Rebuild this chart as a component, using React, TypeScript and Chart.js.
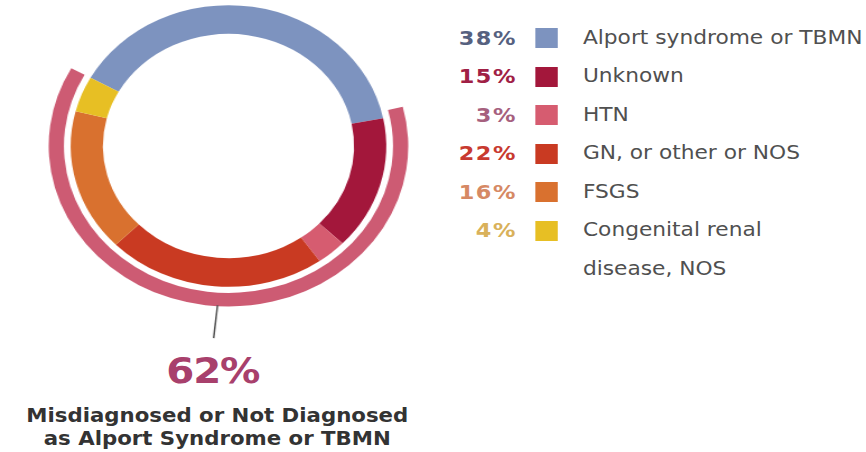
import React, { useEffect, useRef } from "react";
import { Chart, registerables } from "chart.js";

Chart.register(...registerables);

const CATEGORIES = [
  "Alport syndrome or TBMN",
  "Unknown",
  "HTN",
  "GN, or other or NOS",
  "FSGS",
  "Congenital renal\ndisease, NOS",
];
const PERCENTS = [38, 15, 3, 22, 16, 4];
const SEGMENT_COLORS = ["#7d93bf", "#a3173b", "#d65c70", "#c93a22", "#d9712f", "#e7bf24"];
const PERCENT_TEXT_COLORS = ["#56617f", "#a02045", "#a6607e", "#c83a30", "#d68964", "#d9b15a"];
const MISDIAGNOSED = 62;
const BAND_SPLIT = [100 - MISDIAGNOSED, MISDIAGNOSED];
const BAND_COLOR = "#cd5b73";
const SUMMARY_LABEL = "Misdiagnosed or Not Diagnosed\nas Alport Syndrome or TBMN";

const FONT = "'DejaVu Sans', 'Open Sans', sans-serif";

const tickPlugin = {
  id: "bandTick",
  afterDatasetsDraw(chart: any) {
    const meta = chart.getDatasetMeta(0);
    const arc = meta.data[1];
    if (!arc) return;
    const { x, y, outerRadius } = arc.getProps(["x", "y", "outerRadius"], true);
    const a = Math.PI / 2 + 0.061;
    const x0 = x + outerRadius * Math.cos(a);
    const y0 = y + outerRadius * Math.sin(a);
    const ctx = chart.ctx;
    ctx.save();
    ctx.strokeStyle = "#555";
    ctx.lineWidth = 1.5;
    ctx.beginPath();
    ctx.moveTo(x0, y0 - 1);
    ctx.lineTo(x0 - 3.5, y0 + 32);
    ctx.stroke();
    ctx.restore();
  },
};

function Donut() {
  const ref = useRef<HTMLCanvasElement>(null);
  useEffect(() => {
    if (!ref.current) return;
    const chart = new Chart(ref.current, {
      type: "doughnut",
      data: {
        labels: CATEGORIES,
        datasets: [
          {
            data: BAND_SPLIT,
            backgroundColor: ["rgba(0,0,0,0)", BAND_COLOR],
            borderWidth: 0,
            weight: 13.5,
          } as any,
          {
            data: [1],
            backgroundColor: ["rgba(0,0,0,0)"],
            borderWidth: 0,
            weight: 6,
          } as any,
          {
            data: PERCENTS,
            backgroundColor: SEGMENT_COLORS,
            borderWidth: 0,
            weight: 28.5,
          } as any,
        ],
      },
      options: {
        responsive: false,
        animation: false,
        events: [],
        rotation: -61,
        radius: 160.5,
        cutout: 112.5,
        layout: { padding: { bottom: 40 } },
        plugins: {
          legend: { display: false },
          tooltip: { enabled: false },
        },
      } as any,
      plugins: [tickPlugin],
    });
    return () => chart.destroy();
  }, []);
  return (
    <canvas
      ref={ref}
      width={322}
      height={362}
      style={{ position: "absolute", left: 42.6, top: -15, width: 322, height: 362 }}
    />
  );
}

export default function App() {
  return (
    <div
      style={{
        position: "absolute",
        left: 0,
        top: 0,
        width: 773,
        height: 452,
        overflow: "hidden",
        transform: "scaleX(1.12)",
        transformOrigin: "0 0",
        fontFamily: FONT,
        background: "#fff",
      }}
    >
      <Donut />
      <div
        style={{
          position: "absolute",
          left: 90,
          width: 200,
          top: 349,
          textAlign: "center",
          fontWeight: 700,
          fontSize: 36,
          letterSpacing: -1,
          lineHeight: "44px",
          color: "#a8406c",
        }}
      >
        {MISDIAGNOSED}%
      </div>
      <div
        style={{
          position: "absolute",
          left: 0,
          width: 388,
          top: 403.5,
          textAlign: "center",
          fontWeight: 700,
          fontSize: 19,
          lineHeight: "23px",
          color: "#333",
          whiteSpace: "pre-line",
        }}
      >
        {SUMMARY_LABEL}
      </div>
      <div style={{ position: "absolute", left: 380, top: 18.75 }}>
        {CATEGORIES.map((c, i) => (
          <div key={c} style={{ display: "flex", alignItems: "flex-start" }}>
            <div
              style={{
                width: 81.6,
                textAlign: "right",
                fontWeight: 700,
                fontSize: 20,
                letterSpacing: 1.4,
                lineHeight: "38.5px",
                height: 38.5,
                color: PERCENT_TEXT_COLORS[i],
              }}
            >
              {PERCENTS[i]}%
            </div>
            <div
              style={{
                marginLeft: 16.1,
                marginTop: 9.25,
                width: 20.5,
                height: 20,
                background: SEGMENT_COLORS[i],
                flex: "none",
              }}
            />
            <div
              style={{
                marginLeft: 22.3,
                fontSize: 19.4,
                lineHeight: "38.5px",
                color: "#505050",
                whiteSpace: "pre-line",
              }}
            >
              {c}
            </div>
          </div>
        ))}
      </div>
    </div>
  );
}
